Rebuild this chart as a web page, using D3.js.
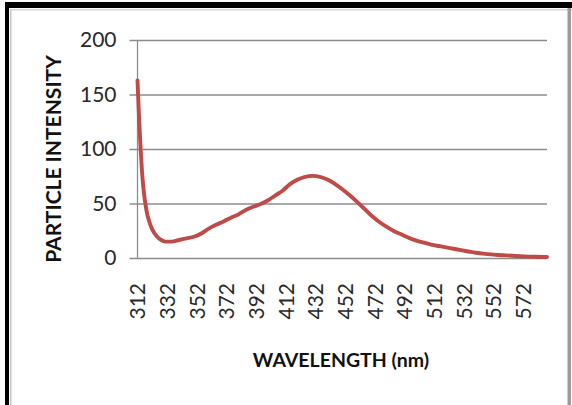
<!DOCTYPE html>
<html>
<head>
<meta charset="utf-8">
<script src="https://cdn.jsdelivr.net/npm/d3@7"></script>
<style>
  html, body { margin: 0; padding: 0; background: #fff; }
  svg { display: block; }
</style>
</head>
<body>
<svg id="chart" width="572" height="405"></svg>
<script>
// ---- data ----
const wavelengths = [312,313,314,315,316,318,320,322,325,328,331,335,340,345,350,355,360,365,370,375,380,385,390,395,400,405,410,415,420,425,430,435,440,445,450,455,460,465,470,475,480,485,490,495,500,505,510,515,520,525,530,535,540,545,550,555,560,565,570,575,580,588];
const intensity   = [163,130,103,80,64,44,33,26,20,16.5,15,15,16.5,18,19.5,22.5,27,30.5,33.5,37,40,44,47,49.5,53,57.5,62,68,72,74.5,75.3,74.5,72,68,63,57.5,51.5,45,38.5,33,28.5,24.5,21.5,18.5,16,14,12.3,11,9.8,8.5,7.2,6,4.8,4,3.3,2.8,2.4,2,1.6,1.3,1.1,0.9];
const xTickLabels = [312,332,352,372,392,412,432,452,472,492,512,532,552,572];
const yTickLabels = [0,50,100,150,200];
const xTitle = "WAVELENGTH (nm)";
const yTitle = "PARTICLE INTENSITY";

const svg = d3.select("#chart");
const font = "Lato, 'Open Sans', sans-serif";

// frame
svg.append("rect").attr("x",5).attr("y",2).attr("width",567).attr("height",6).attr("fill","#000");
svg.append("rect").attr("x",5).attr("y",2).attr("width",4).attr("height",403).attr("fill","#000");
svg.append("rect").attr("x",10).attr("y",9).attr("width",1.5).attr("height",396).attr("fill","#c8c8c8");
svg.append("rect").attr("x",10).attr("y",9).attr("width",562).attr("height",1.5).attr("fill","#d8d8d8");
svg.append("rect").attr("x",567.5).attr("y",8).attr("width",3.5).attr("height",397).attr("fill","#9a9a9a");

// scales
const x = d3.scaleLinear().domain([312, 588]).range([137.5, 547]);
const y = d3.scaleLinear().domain([0, 200]).range([258, 40]);

// gridlines (y)
const yAxis = d3.axisLeft(y).tickValues(yTickLabels).tickSize(-(547 - 137.5)).tickPadding(21).tickSizeOuter(0);
const gy = svg.append("g").attr("transform", "translate(137.5,0)").call(yAxis);
gy.select(".domain").remove();
gy.selectAll(".tick line").attr("stroke","#8c8c8c").attr("stroke-width",1.3).attr("x1",-8);
gy.selectAll(".tick text").attr("font-family",font).attr("font-size",21).attr("fill","#2a2a2a");

// vertical axis line
svg.append("line").attr("x1",137.5).attr("x2",137.5).attr("y1",y(200)).attr("y2",y(0))
  .attr("stroke","#8c8c8c").attr("stroke-width",1.3);

// x axis labels
const xAxis = d3.axisBottom(x).tickValues(xTickLabels).tickSize(0).tickPadding(0);
const gx = svg.append("g").attr("transform", `translate(0,${y(0)})`).call(xAxis);
gx.select(".domain").remove();
gx.selectAll(".tick text")
  .attr("font-family",font).attr("font-size",21).attr("fill","#2a2a2a")
  .attr("text-anchor","end")
  .attr("transform","rotate(-90)")
  .attr("x",-25).attr("y",0).attr("dy","0.35em");

// line
const line = d3.line().x((d,i) => x(wavelengths[i])).y(d => y(d)).curve(d3.curveMonotoneX);
svg.append("path").datum(intensity).attr("d", line)
  .attr("fill","none").attr("stroke","#bf4b48").attr("stroke-width",3.9)
  .attr("stroke-linejoin","round").attr("stroke-linecap","round");

// titles
svg.append("text").attr("x",341).attr("y",367).attr("text-anchor","middle")
  .attr("font-family",font).attr("font-weight","bold").attr("font-size",19.5).attr("fill","#111")
  .text(xTitle);
svg.append("text").attr("transform","translate(61,159) rotate(-90)").attr("text-anchor","middle")
  .attr("font-family",font).attr("font-weight","bold").attr("font-size",21).attr("fill","#111")
  .text(yTitle);
</script>
</body>
</html>
